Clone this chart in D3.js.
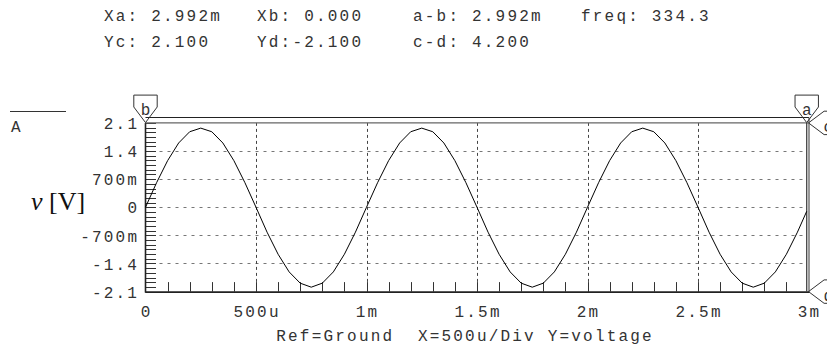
<!DOCTYPE html>
<html><head><meta charset="utf-8">
<script src="https://cdn.jsdelivr.net/npm/d3@7"></script>
<style>
html,body{margin:0;padding:0;background:#fff;}
svg{display:block;}
.mono{font-family:"Liberation Mono","Courier New",monospace;font-size:16px;letter-spacing:2.2px;fill:#333;}
</style>
</head><body>
<svg id="chart" width="827" height="347"></svg>
<script>
// ---- data ----
const timeMs = [0,0.05,0.1,0.15,0.2,0.25,0.3,0.35,0.4,0.45,0.5,0.55,0.6,0.65,0.7,0.75,0.8,0.85,0.9,0.95,
  1,1.05,1.1,1.15,1.2,1.25,1.3,1.35,1.4,1.45,1.5,1.55,1.6,1.65,1.7,1.75,1.8,1.85,1.9,1.95,
  2,2.05,2.1,2.15,2.2,2.25,2.3,2.35,2.4,2.45,2.5,2.55,2.6,2.65,2.7,2.75,2.8,2.85,2.9,2.95,2.992];
const voltage = [0.00,0.61,1.16,1.60,1.88,1.97,1.88,1.60,1.16,0.61,0.00,-0.62,-1.17,-1.61,-1.89,-1.99,-1.89,-1.61,-1.17,-0.62,
  0.00,0.61,1.16,1.60,1.88,1.97,1.88,1.60,1.16,0.61,0.00,-0.62,-1.17,-1.61,-1.89,-1.99,-1.89,-1.61,-1.17,-0.62,
  0.00,0.61,1.16,1.60,1.88,1.97,1.88,1.60,1.16,0.61,0.00,-0.62,-1.17,-1.61,-1.89,-1.99,-1.89,-1.61,-1.17,-0.62,-0.10];
const xTicks = [0,0.5,1,1.5,2,2.5,3];
const xTickLabels = ["0","500u","1m","1.5m","2m","2.5m","3m"];
const yTicks = [2.1,1.4,0.7,0,-0.7,-1.4,-2.1];
const yTickLabels = ["2.1","1.4","700m","0","-700m","-1.4","-2.1"];
const headerRow1 = ["Xa: 2.992m","Xb: 0.000","a-b: 2.992m","freq: 334.3"];
const headerRow2 = ["Yc: 2.100","Yd:-2.100","c-d: 4.200"];
const cursorX = {a:2.992, b:0};
const cursorY = {c:2.1, d:-2.1};
const xAxisCaption = "Ref=Ground  X=500u/Div Y=voltage";
const traceName = "A";

// ---- layout ----
const svg = d3.select("#chart");
const x = d3.scaleLinear().domain([0,3]).range([145.5,808.5]);
const y = d3.scaleLinear().domain([-2.1,2.1]).range([291.6,122.9]);
const LS = 2.2;

// header
const hx = [104,257,413,581];
headerRow1.forEach((t,i)=>svg.append("text").attr("class","mono").attr("x",hx[i]).attr("y",20.5).attr("xml:space","preserve").text(t));
headerRow2.forEach((t,i)=>svg.append("text").attr("class","mono").attr("x",hx[i]).attr("y",46.5).attr("xml:space","preserve").text(t));

// trace legend
svg.append("line").attr("x1",10).attr("x2",66).attr("y1",111.5).attr("y2",111.5).attr("stroke","#333").attr("stroke-width",1);
svg.append("text").attr("class","mono").attr("x",11).attr("y",131.5).text(traceName);

// y label
const yl = svg.append("text").attr("x",31).attr("y",210).style("font-family","'Liberation Serif','Times New Roman',serif").style("font-size","26px").attr("fill","#111");
yl.append("tspan").style("font-style","italic").text("v");
yl.append("tspan").text(" [V]");

// horizontal grid
svg.append("g").selectAll("line").data(yTicks.filter(v=>Math.abs(v)<2)).join("line")
  .attr("x1",x(0)+14).attr("x2",x(cursorX.a)-3).attr("y1",d=>Math.round(y(d))+0.5).attr("y2",d=>Math.round(y(d))+0.5)
  .attr("stroke","#777").attr("stroke-width",1).attr("stroke-dasharray","3,5");
// vertical grid
svg.append("g").selectAll("line").data(xTicks.filter(v=>v>0&&v<3)).join("line")
  .attr("x1",d=>Math.round(x(d))+0.5).attr("x2",d=>Math.round(x(d))+0.5).attr("y1",y(2.1)).attr("y2",y(-2.1))
  .attr("stroke","#444").attr("stroke-width",1).attr("stroke-dasharray","3,3");

// minor ticks x
const xMinor = d3.range(1,30).map(i=>i*0.1);
svg.append("g").selectAll("line").data(xMinor).join("line")
  .attr("x1",d=>Math.round(x(d))+0.5).attr("x2",d=>Math.round(x(d))+0.5).attr("y1",y(-2.1)-9.5).attr("y2",y(-2.1))
  .attr("stroke","#333").attr("stroke-width",1);
// minor ticks y
const yMinor = d3.range(0,37).map(i=>-2.1+i*0.7/6);
svg.append("g").selectAll("line").data(yMinor).join("line")
  .attr("x1",x(0)).attr("x2",x(0)+10.5).attr("y1",d=>Math.round(y(d))+0.5).attr("y2",d=>Math.round(y(d))+0.5)
  .attr("stroke","#333").attr("stroke-width",1);

// frame
svg.append("line").attr("x1",x(0)).attr("x2",x(3)+0.5).attr("y1",117.5).attr("y2",117.5).attr("stroke","#222").attr("stroke-width",1.2);
svg.append("line").attr("x1",x(3)+0.5).attr("x2",x(3)+0.5).attr("y1",117.5).attr("y2",y(-2.1)).attr("stroke","#555").attr("stroke-width",1.2);
// axes
svg.append("line").attr("x1",x(0)).attr("x2",x(0)).attr("y1",y(2.1)).attr("y2",y(-2.1)+1).attr("stroke","#222").attr("stroke-width",1.6);
svg.append("line").attr("x1",x(0)).attr("x2",x(3)+1).attr("y1",y(-2.1)+0.5).attr("y2",y(-2.1)+0.5).attr("stroke","#222").attr("stroke-width",1.8);
// cursor lines
svg.append("line").attr("x1",x(0)).attr("x2",x(3)).attr("y1",y(cursorY.c)).attr("y2",y(cursorY.c)).attr("stroke","#666").attr("stroke-width",1.2);
svg.append("line").attr("x1",x(cursorX.a)).attr("x2",x(cursorX.a)).attr("y1",y(2.1)).attr("y2",y(-2.1)).attr("stroke","#333").attr("stroke-width",1.2);

// curve
const pts = timeMs.map((t,i)=>[t,voltage[i]]);
svg.append("path").datum(pts).attr("fill","none").attr("stroke","#000").attr("stroke-width",1)
  .attr("d",d3.line().x(d=>x(d[0])).y(d=>y(d[1])));

// tick labels
svg.append("g").selectAll("text").data(yTicks).join("text").attr("class","mono")
  .attr("x",137+LS).attr("y",d=>y(d)+2).attr("text-anchor","end").attr("dominant-baseline","middle")
  .text((d,i)=>yTickLabels[i]);
svg.append("g").selectAll("text").data(xTicks).join("text").attr("class","mono")
  .attr("x",d=>x(d)+LS/2).attr("y",316.5).attr("text-anchor","middle")
  .text((d,i)=>xTickLabels[i]);
svg.append("text").attr("class","mono").attr("x",464+LS/2).attr("y",340.5).attr("text-anchor","middle").attr("xml:space","preserve").text(xAxisCaption);

// cursor markers
function topMarker(cx,label){
  const tx=x(cx), ty=y(2.1)-0.3;
  svg.append("path").attr("d",`M${tx},${ty} L${tx-11.7},${ty-15.6} L${tx-11.7},${ty-27.5} L${tx+11.7},${ty-27.5} L${tx+11.7},${ty-15.6} Z`)
    .attr("fill","none").attr("stroke","#333").attr("stroke-width",1);
  svg.append("text").attr("class","mono").style("letter-spacing","0").attr("x",tx).attr("y",ty-7.5).attr("text-anchor","middle").text(label);
}
function rightMarker(cy,label){
  const tx=x(3), ty=y(cy);
  svg.append("path").attr("d",`M${tx},${ty} L${tx+15.6},${ty-11.7} L${tx+27.5},${ty-11.7} L${tx+27.5},${ty+11.7} L${tx+15.6},${ty+11.7} Z`)
    .attr("fill","none").attr("stroke","#333").attr("stroke-width",1);
  svg.append("text").attr("class","mono").style("letter-spacing","0").attr("x",tx+15).attr("y",ty+9.5).text(label);
}
topMarker(cursorX.b,"b");
topMarker(cursorX.a,"a");
rightMarker(cursorY.c,"c");
rightMarker(cursorY.d,"d");
</script>
</body></html>
